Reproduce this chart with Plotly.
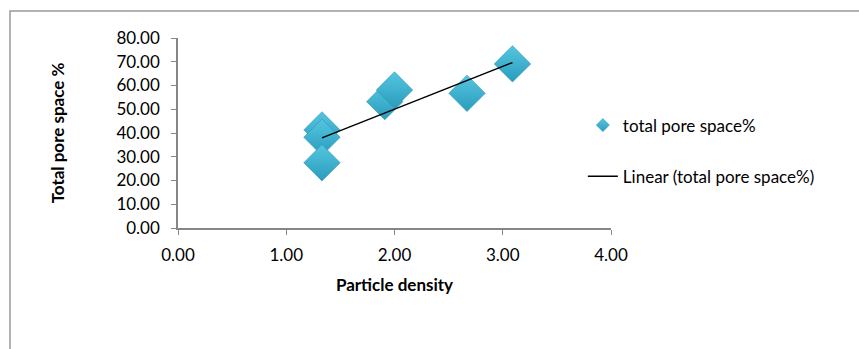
import numpy as np
import plotly.graph_objects as go

# Particle density vs total pore space (%)
particle_density = [1.33, 1.33, 1.33, 1.91, 2.00, 2.67, 3.09]
total_pore_space = [41.3, 38.2, 27.5, 53.2, 58.1, 56.7, 69.1]

x_ticks = [0, 1, 2, 3, 4]
y_ticks = [0, 10, 20, 30, 40, 50, 60, 70, 80]

# Least-squares linear trend
slope, intercept = np.polyfit(particle_density, total_pore_space, 1)
trend_x = [min(particle_density), max(particle_density)]
trend_y = [slope * v + intercept for v in trend_x]

FONT = "Lato"
AXIS_GREY = "#868686"
FS = 17

marker_style = dict(symbol="diamond", color="#55c6e0",
                    gradient=dict(type="vertical", color="#2a9cbd"),
                    line=dict(width=0.6, color="#2c93b0"))

fig = go.Figure()

fig.add_trace(go.Scatter(
    x=particle_density, y=total_pore_space,
    mode="markers", name="total pore space%",
    showlegend=False,
    marker=dict(size=28, **marker_style),
))

# Smaller legend key for the scatter series
fig.add_trace(go.Scatter(
    x=[None], y=[None],
    mode="markers", name="total pore space%",
    legendgroup="a",
    marker=dict(size=10, **marker_style),
))

fig.add_trace(go.Scatter(
    x=trend_x, y=trend_y,
    mode="lines", name="Linear (total pore space%)",
    legendgroup="b",
    line=dict(color="black", width=1.4),
))

axis_common = dict(
    showgrid=False, zeroline=False,
    showline=True, linecolor=AXIS_GREY, linewidth=1.5,
    ticks="outside", tickcolor=AXIS_GREY, ticklen=5, tickwidth=1,
    tickfont=dict(family=FONT, size=FS, color="black"),
)

fig.update_xaxes(
    range=[0, 4], tickvals=x_ticks,
    ticktext=[f"{v:.2f}" for v in x_ticks],
    ticklabelstandoff=6,
    title=dict(text="<b>Particle density</b>", standoff=15,
               font=dict(family=FONT, size=FS, color="black")),
    **axis_common,
)
fig.update_yaxes(
    range=[0, 80], tickvals=y_ticks,
    ticktext=[f"{v:.2f}" for v in y_ticks],
    ticklabelstandoff=8,
    title=dict(text="<b>Total pore space %</b>", standoff=47,
               font=dict(family=FONT, size=FS, color="black")),
    **axis_common,
)

# Chart-area frame (right and bottom edges fall outside the page)
fig.add_shape(type="rect", xref="paper", yref="paper",
              x0=-0.388, y0=-0.70, x1=1.6, y1=1.142,
              line=dict(color="#9a9a9a", width=1.5), layer="below")

fig.update_layout(
    width=859, height=349,
    margin=dict(l=178, r=248, t=38, b=121),
    paper_bgcolor="white", plot_bgcolor="white",
    font=dict(family=FONT, size=FS, color="black"),
    showlegend=True,
    legend=dict(
        x=0.935, xanchor="left", y=0.405, yanchor="middle",
        traceorder="grouped", tracegroupgap=26,
        font=dict(family=FONT, size=FS, color="black"),
        bgcolor="rgba(0,0,0,0)",
    ),
)

fig.write_html("out.html")
